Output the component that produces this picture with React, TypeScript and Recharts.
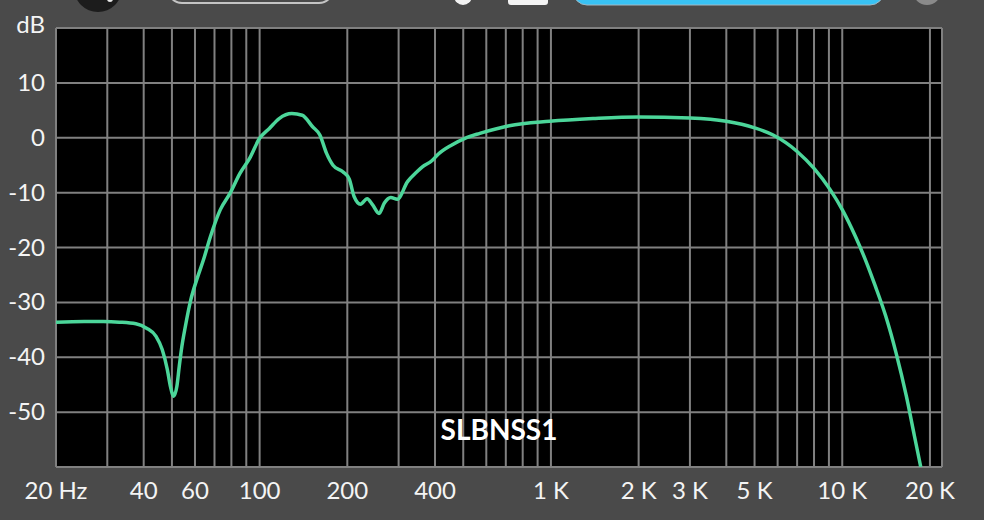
import React from 'react'
import { LineChart, Line, XAxis, YAxis, CartesianGrid } from 'recharts'

// frequency (Hz) and level (dB)
const freqs = [
  20, 25, 29, 33, 37.6, 40.9, 44.1, 46.3, 48.2, 49.4, 50.7, 52, 53, 54.1, 55.6, 58,
  60.8, 64.2, 67.8, 73.3, 79.2, 85.6, 92.5, 100, 108, 116.7, 129, 140, 152, 161,
  169.6, 178.6, 193, 203, 211, 222, 234, 244, 257, 268, 282, 297, 322, 347, 362,
  390, 410, 457, 507, 570, 719, 990, 1394, 1993, 3000, 4000, 5000, 5790,
  7000, 8000, 9100, 10000, 11100, 12000, 13000, 14100, 15300, 16600, 17700, 18600,
]
const levels = [
  -33.6, -33.5, -33.5, -33.6, -33.9, -34.7, -36.2, -38.6, -42.2, -45.3, -47.1, -45.3, -41.6, -38, -34.4, -29.6,
  -25.9, -22.2, -18, -13.1, -10.1, -6.5, -3.7, -0.1, 1.7, 3.5, 4.4, 4.1, 2.0, 0.5,
  -2.8, -5.0, -6.2, -7.5, -10.7, -12.1, -11.1, -12.2, -13.8, -11.9, -10.9, -11.2, -8.0, -6.2, -5.3,
  -4.2, -3.0, -1.3, -0.1, 0.8, 2.2, 3.0, 3.5, 3.8, 3.6, 3.0, 1.8, 0.5,
  -2.5, -5.6, -9.5, -13.1, -18, -22.2, -27.1, -32.5, -39.2, -47.1, -54.4, -60,
]

const xTicks = [
  20, 30, 40, 50, 60, 70, 80, 90, 100, 200, 300, 400, 500, 600, 700, 800, 900, 1000,
  2000, 3000, 4000, 5000, 6000, 7000, 8000, 9000, 10000, 20000, 22000,
]
const xLabels: Record<number, string> = {
  20: '20 Hz', 40: '40', 60: '60', 100: '100', 200: '200', 400: '400',
  1000: '1 K', 2000: '2 K', 3000: '3 K', 5000: '5 K', 10000: '10 K', 20000: '20 K',
}
const yTicks = [-60, -50, -40, -30, -20, -10, 0, 10, 20]

const data = freqs.map((f, i) => ({ f, db: levels[i] }))

const font = 'Lato, "Noto Sans", sans-serif'

function XTick(props: any) {
  const label = xLabels[props.payload.value]
  if (!label) return null
  return (
    <text x={props.x} y={props.y + 32} textAnchor="middle" fill="#f4f4f4" fontSize={24} fontFamily={font}>
      {label}
    </text>
  )
}

function YTick(props: any) {
  const v = props.payload.value
  if (v === -60) return null
  return (
    <text x={props.x - 11} y={props.y + (v === 20 ? 5 : 8)} textAnchor="end" fill="#f4f4f4" fontSize={24} fontFamily={font}>
      {v === 20 ? 'dB' : v}
    </text>
  )
}

export default function App() {
  return (
    <div style={{ position: 'fixed', left: 0, top: 0, width: 984, height: 520, background: '#4a4a4a', overflow: 'hidden' }}>
      <LineChart width={984} height={520} data={data} margin={{ top: 28, right: 42, bottom: 0, left: 0 }}>
        <CartesianGrid stroke="#808080" strokeWidth={2} fill="#000" fillOpacity={1} />
        <XAxis
          dataKey="f"
          type="number"
          scale="log"
          domain={[20, 22000]}
          ticks={xTicks}
          interval={0}
          height={53}
          axisLine={false}
          tickLine={false}
          tickSize={0}
          tickMargin={0}
          tick={<XTick />}
          allowDataOverflow
        />
        <YAxis
          type="number"
          domain={[-60, 20]}
          ticks={yTicks}
          interval={0}
          width={56}
          axisLine={false}
          tickLine={false}
          tickSize={0}
          tickMargin={0}
          tick={<YTick />}
          allowDataOverflow
        />
        <Line dataKey="db" type="monotone" stroke="#4cd69a" strokeWidth={3.5} dot={false} isAnimationActive={false} />
      </LineChart>
      <svg width={984} height={520} style={{ position: 'absolute', left: 0, top: 0, pointerEvents: 'none' }}>
        <circle cx={98} cy={-12} r={24} fill="#1c1c1c" />
        <circle cx={110} cy={-1} r={3} fill="#e8e8e8" />
        <rect x={168} y={-30} width={165} height={33} rx={14} fill="none" stroke="#c4c4c4" strokeWidth={2} />
        <circle cx={463} cy={-4} r={9} fill="#f2f2f2" />
        <rect x={508} y={-12} width={40} height={17} rx={3} fill="#f4f4f4" />
        <rect x={573} y={-30} width={311} height={35} rx={14} fill="#38c2f4" stroke="#9fb8c4" strokeWidth={1} />
        <circle cx={927} cy={-9} r={14} fill="#8a8a8a" />
        <text x={499} y={440} textAnchor="middle" fill="#ffffff" fontSize={28} fontWeight="bold" fontFamily={font}>
          SLBNSS1
        </text>
      </svg>
    </div>
  )
}
